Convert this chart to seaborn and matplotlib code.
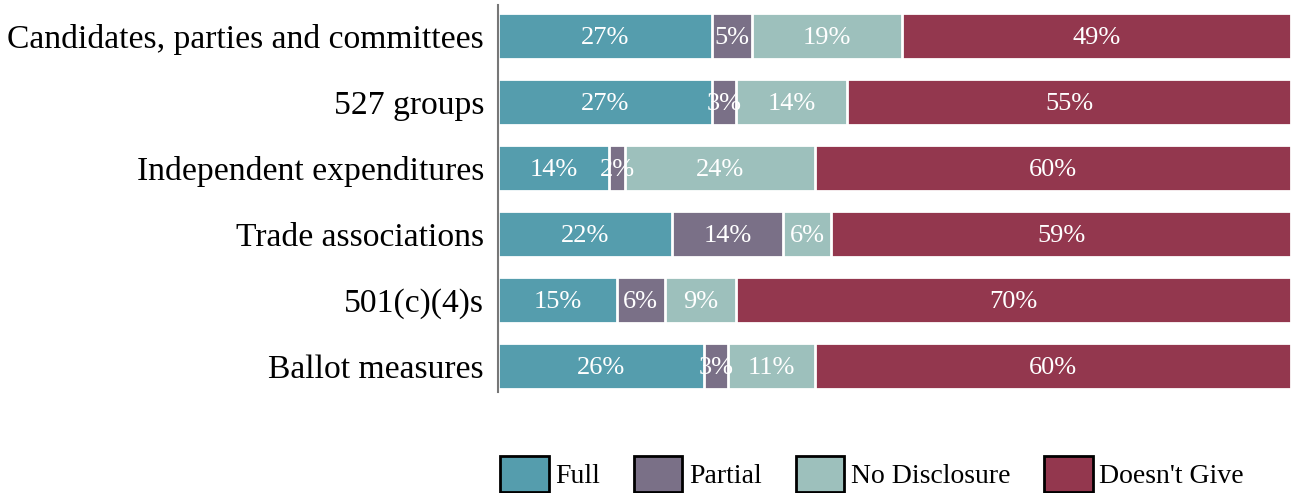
import matplotlib
matplotlib.use("Agg")
import matplotlib.pyplot as plt
import matplotlib.patches as mpatches
import numpy as np
import pandas as pd
import seaborn as sns

# data
groups = ["Candidates, parties and committees", "527 groups", "Independent expenditures",
          "Trade associations", "501(c)(4)s", "Ballot measures"]
full = [27, 27, 14, 22, 15, 26]
partial = [5, 3, 2, 14, 6, 3]
no_disclosure = [19, 14, 24, 6, 9, 11]
doesnt_give = [49, 55, 60, 59, 70, 60]

series = ["Full", "Partial", "No Disclosure", "Doesn't Give"]
colors = ["#559dad", "#7a7087", "#9dc0bc", "#93374e"]

df = pd.DataFrame({"group": groups, "Full": full, "Partial": partial,
                   "No Disclosure": no_disclosure, "Doesn't Give": doesnt_give})

sns.set_theme(style="white")
plt.rcParams["font.family"] = ["Liberation Serif", "DejaVu Serif"]

fig = plt.figure(figsize=(12.91, 4.93), dpi=100)
ax = fig.add_axes([498 / 1291, 1 - 392 / 493, 1 - 498 / 1291, 387 / 493])

# stacked bars: draw cumulative totals from the back to the front
cum = df[series[:3]].cumsum(axis=1)
cum["Doesn't Give"] = 100
for s, c in zip(series[::-1], colors[::-1]):
    sns.barplot(x=cum[s], y=df["group"], color=c, saturation=1, orient="h", width=0.7,
                edgecolor="white", linewidth=2, ax=ax)

# percentage labels in the middle of each segment
lefts = np.zeros(len(groups))
for s in series:
    rights = cum[s].values
    for i, v in enumerate(df[s]):
        ax.text((lefts[i] + rights[i]) / 2, i + 0.03, f"{v}%", ha="center", va="center",
                color="white", fontsize=19)
    lefts = rights

ax.set_xlim(0, 100)
ax.set_ylim(5.39, -0.47)
ax.set_xlabel("")
ax.set_ylabel("")
ax.set_xticks([])
ax.tick_params(axis="y", length=0, pad=10, labelsize=24.2, labelcolor="black")
for side in ["top", "right", "bottom"]:
    ax.spines[side].set_visible(False)
ax.spines["left"].set_color("#777777")
ax.spines["left"].set_linewidth(1.5)

handles = [mpatches.Patch(facecolor=c, edgecolor="black", linewidth=2, label=s)
           for s, c in zip(series, colors)]
leg = fig.legend(handles=handles, loc="upper left", bbox_to_anchor=(489 / 1291, 1 - 445 / 493),
                 ncol=4, frameon=False, fontsize=20, handlelength=1.75, handleheight=1.6,
                 handletextpad=0.25, columnspacing=1.2, borderaxespad=0)
for t in leg.get_texts():
    t.set_color("black")

fig.savefig("out.png", dpi=100)
